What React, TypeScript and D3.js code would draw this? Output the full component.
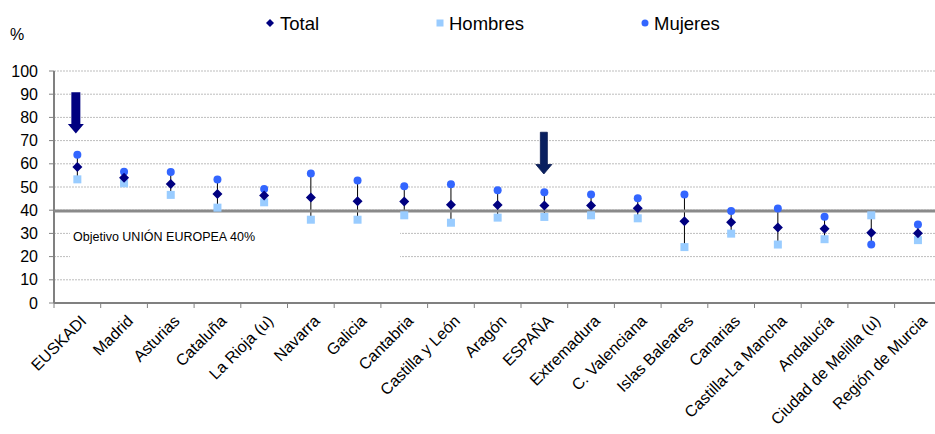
import React from "react";
import * as d3 from "d3";

const categories = ["EUSKADI", "Madrid", "Asturias", "Cataluña", "La Rioja (u)", "Navarra", "Galicia", "Cantabria", "Castilla y León", "Aragón", "ESPAÑA", "Extremadura", "C. Valenciana", "Islas Baleares", "Canarias", "Castilla-La Mancha", "Andalucía", "Ciudad de Melilla (u)", "Región de Murcia"];
const total = [58.6, 54.0, 51.3, 47.0, 46.3, 45.5, 43.9, 43.8, 42.3, 42.2, 42.0, 42.0, 40.8, 35.2, 34.8, 32.5, 32.0, 30.3, 30.1];
const hombres = [53.3, 51.6, 46.6, 41.1, 43.4, 35.9, 35.9, 37.8, 34.6, 36.8, 37.1, 37.8, 36.5, 24.1, 29.9, 25.2, 27.5, 37.8, 27.1];
const mujeres = [63.9, 56.6, 56.5, 53.2, 49.1, 55.8, 52.8, 50.3, 51.2, 48.6, 47.7, 46.8, 45.1, 46.8, 39.7, 40.7, 37.2, 25.2, 33.8];
const yTicks = [0, 10, 20, 30, 40, 50, 60, 70, 80, 90, 100];
const objetivo = 40;
const objetivoLabel = "Objetivo UNIÓN EUROPEA 40%";
const arrowCats = ["EUSKADI", "ESPAÑA"];
const arrowFrom = [90.8, 73.6];
const arrowTo = [73.1, 55.6];
const legendLabels = ["Total", "Hombres", "Mujeres"];

const FONT = "'Liberation Sans', Arial, Helvetica, sans-serif";
const W = 935, H = 434;
const C_TOTAL = "#000080";
const C_HOM = "#99CCFF";
const C_MUJ = "#3366FF";

const diamondPath = (r: number) => `M0,${-r} L${r},0 L0,${r} L${-r},0 Z`;

export default function App() {
  const x0 = 54, step = 46.7;
  const x = d3.scaleBand<string>().domain(categories).range([x0, x0 + step * categories.length]).padding(0);
  const y = d3.scaleLinear().domain([0, 100]).range([303, 71]);
  const cx = (c: string) => (x(c) as number) + x.bandwidth() / 2;
  const plotRight = W;

  return (
    <svg width={W} height={H} style={{ position: "absolute", left: 0, top: 0, background: "#fff" }} fontFamily={FONT}>
      {/* gridlines */}
      {yTicks.filter(t => t > 0).map(t => (
        <line key={"g" + t} x1={x0} x2={plotRight} y1={y(t)} y2={y(t)} stroke="#bdbdbd" strokeWidth={1} strokeDasharray="2,1" />
      ))}
      {/* white label box */}
      <rect x={70} y={213} width={330} height={57} fill="#fff" />
      <text x={73} y={241} fontSize={12.5} fill="#000">{objetivoLabel}</text>

      {/* y axis */}
      <line x1={x0} x2={x0} y1={y(100)} y2={y(0)} stroke="#808080" strokeWidth={2} />
      {yTicks.map(t => (
        <g key={"t" + t}>
          <line x1={x0 - 5} x2={x0} y1={y(t)} y2={y(t)} stroke="#808080" strokeWidth={1} />
          <text x={38} y={y(t) + 5.5} fontSize={16} textAnchor="end" fill="#000">{t}</text>
        </g>
      ))}
      <text x={10} y={40} fontSize={16} fill="#000">%</text>

      {/* x axis */}
      <line x1={x0} x2={plotRight} y1={y(0)} y2={y(0)} stroke="#808080" strokeWidth={2} />
      {categories.map((c, i) => (
        <line key={"xt" + i} x1={x(c) as number} x2={x(c) as number} y1={y(0)} y2={y(0) + 5} stroke="#808080" strokeWidth={1} />
      ))}
      {categories.map((c, i) => {
        const tx = cx(c) + 10, ty = y(0) + 19;
        return (
          <text key={"xl" + i} x={tx} y={ty} fontSize={16} textAnchor="end" transform={`rotate(-45,${tx},${ty})`} fill="#000">{c}</text>
        );
      })}

      {/* hi-low lines */}
      {categories.map((c, i) => {
        const vals = [total[i], hombres[i], mujeres[i]];
        return <line key={"hl" + i} x1={cx(c)} x2={cx(c)} y1={y(d3.max(vals) as number)} y2={y(d3.min(vals) as number)} stroke="#000" strokeWidth={1} />;
      })}

      {/* objective line */}
      <line x1={x0} x2={plotRight} y1={y(objetivo) + 0.8} y2={y(objetivo) + 0.8} stroke="#8a8a8a" strokeWidth={3} />

      {/* markers */}
      {categories.map((c, i) => (
        <rect key={"h" + i} x={cx(c) - 4} y={y(hombres[i]) - 4} width={8} height={8} fill={C_HOM} />
      ))}
      {categories.map((c, i) => (
        <circle key={"m" + i} cx={cx(c)} cy={y(mujeres[i])} r={4} fill={C_MUJ} />
      ))}
      {categories.map((c, i) => (
        <path key={"t" + i} d={diamondPath(5)} transform={`translate(${cx(c)},${y(total[i])})`} fill={C_TOTAL} />
      ))}

      {/* arrows */}
      {arrowCats.map((c, i) => {
        const ax = cx(c) - (i === 0 ? 1.5 : 0.5);
        const top = y(arrowFrom[i]);
        const tip = y(arrowTo[i]);
        const headLen = 9.5, sw = i === 0 ? 4.5 : 3.5, hw = 8;
        const d = `M${ax - sw},${top} L${ax + sw},${top} L${ax + sw},${tip - headLen} L${ax + hw},${tip - headLen} L${ax},${tip} L${ax - hw},${tip - headLen} L${ax - sw},${tip - headLen} Z`;
        return <path key={"a" + i} d={d} fill={i === 0 ? "#000080" : "#0a2060"} stroke={i === 0 ? "none" : "#0a1a50"} strokeWidth={0.8} />;
      })}

      {/* legend */}
      <path d={diamondPath(4)} transform="translate(270,23)" fill={C_TOTAL} />
      <text x={280} y={30} fontSize={18.5} fill="#000">{legendLabels[0]}</text>
      <rect x={436.5} y={19.5} width={7} height={7} fill={C_HOM} />
      <text x={449} y={30} fontSize={18.5} fill="#000">{legendLabels[1]}</text>
      <circle cx={645} cy={23} r={3.5} fill={C_MUJ} />
      <text x={654} y={30} fontSize={18.5} fill="#000">{legendLabels[2]}</text>
    </svg>
  );
}
